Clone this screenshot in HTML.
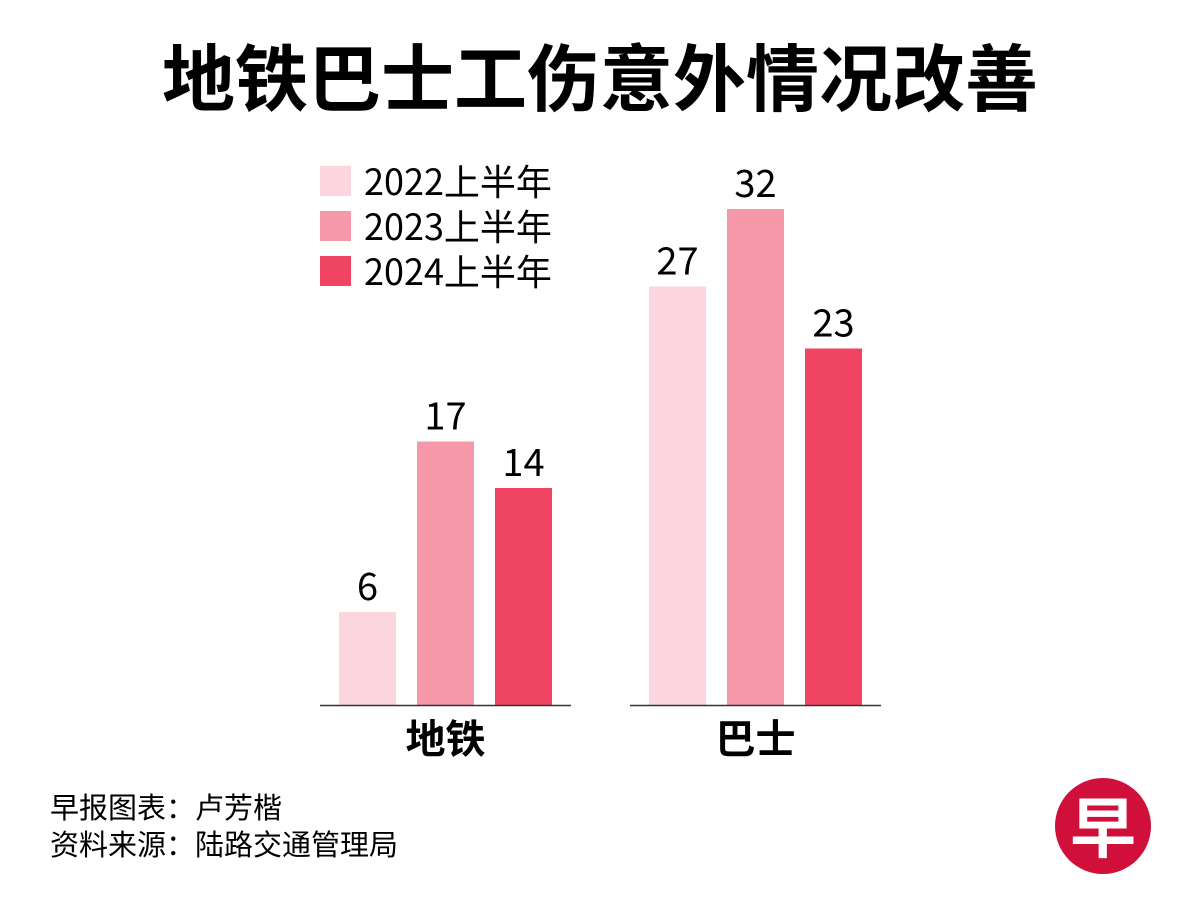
<!DOCTYPE html>
<html><head><meta charset="utf-8">
<style>
body{margin:0;width:1200px;height:924px;background:#fff;overflow:hidden;font-family:"Liberation Sans","Noto Sans CJK SC",sans-serif;}
svg{display:block}
</style></head>
<body>
<svg id="chart" width="1200" height="924">
<text x="600" y="105" text-anchor="middle" font-size="73" font-weight="bold" font-family="Noto Sans CJK SC, sans-serif">地铁巴士工伤意外情况改善</text>
<g id="legend"></g>
<g id="bars"></g>
<text x="50" y="818" font-size="29" font-family="Noto Sans CJK SC, sans-serif">早报图表：卢芳楷</text>
<text x="50" y="855" font-size="29" font-family="Noto Sans CJK SC, sans-serif">资料来源：陆路交通管理局</text>
<g>
<circle cx="1103" cy="826" r="48" fill="#d0103a"/>
<text x="1103" y="852" text-anchor="middle" font-size="66" font-weight="bold" fill="#fff" font-family="Noto Sans CJK SC, sans-serif">早</text>
</g>
</svg>
<script>
const categories=["地铁","巴士"];
const seriesNames=["2022上半年","2023上半年","2024上半年"];
const s2022=[6,27];
const s2023=[17,32];
const s2024=[14,23];
const colors=["#fcd5df","#f598aa","#f04463"];
const NS="http://www.w3.org/2000/svg";
const baseY=705, pxPerUnit=15.5;
const y=v=>baseY-v*pxPerUnit;
const groupX=[339,649], step=78, bw=57;
const series=[s2022,s2023,s2024];
function mk(tag,attrs,parent){const e=document.createElementNS(NS,tag);for(const k in attrs)e.setAttribute(k,attrs[k]);parent.appendChild(e);return e;}
const bars=document.getElementById('bars');
categories.forEach((c,gi)=>{
  series.forEach((s,si)=>{
    const x=groupX[gi]+si*step;
    const r=mk('rect',{x:x,y:y(s[gi]),width:bw,height:baseY-y(s[gi]),fill:colors[si]},bars);
    
    
    const t=mk('text',{x:x+bw/2,y:y(s[gi])-12,'text-anchor':'middle','font-size':'38','font-family':'Noto Sans CJK SC, sans-serif'},bars);
    t.textContent=s[gi];
    
    
  });
  const l=mk('line',{x1:groupX[gi]-19,x2:groupX[gi]+2*step+bw+19,y1:baseY+0.5,y2:baseY+0.5,stroke:'#333','stroke-width':'1.5'},bars);
  
  
  const ct=mk('text',{x:groupX[gi]+step+bw/2,y:753,'text-anchor':'middle','font-size':'40','font-weight':'bold','font-family':'Noto Sans CJK SC, sans-serif'},bars);
  ct.textContent=c;
  
  
});
const lg=document.getElementById('legend');
seriesNames.forEach((n,i)=>{
  const r=mk('rect',{x:320,y:166+i*45,width:31,height:30,fill:colors[i]},lg);
  
  
  const t=mk('text',{x:364,y:195+i*45,'font-size':'36','font-family':'Noto Sans CJK SC, sans-serif'},lg);
  t.textContent=n;
  
  
});
</script>
</body></html>
